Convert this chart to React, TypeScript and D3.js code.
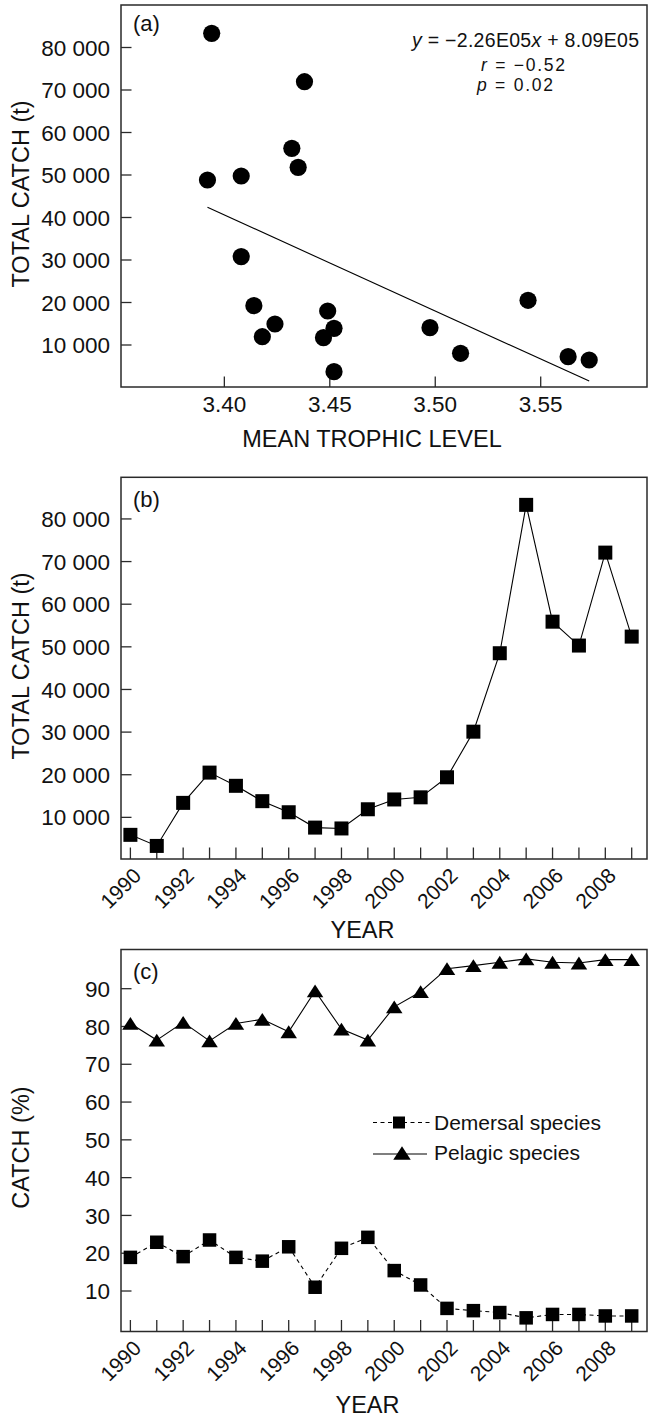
import React from "react";
import * as d3 from "d3";

// ---------- data ----------
const years = [1990,1991,1992,1993,1994,1995,1996,1997,1998,1999,2000,2001,2002,2003,2004,2005,2006,2007,2008,2009];
const yearLabels = [1990,1992,1994,1996,1998,2000,2002,2004,2006,2008];

// panel (a) scatter: mean trophic level vs total catch
const scatterTL = [3.394,3.438,3.432,3.435,3.392,3.408,3.408,3.414,3.424,3.418,3.449,3.452,3.447,3.452,3.4975,3.512,3.544,3.563,3.573];
const scatterCatch = [83340,71950,56280,51810,48820,49760,30780,19250,14940,11950,18000,13930,11720,3720,14070,8050,20520,7250,6470];
const regSlope = -2.26e5;
const regIntercept = 8.09e5;
const tlTicks = [3.40,3.45,3.50,3.55];
const catchTicks = [10000,20000,30000,40000,50000,60000,70000,80000];

// panel (b) total catch per year
const totalCatch = [5900,3300,13400,20500,17400,13800,11200,7600,7400,11900,14200,14700,19400,30100,48500,83300,55900,50300,72100,52400];

// panel (c) catch composition (%)
const demersal = [18.9,22.9,19.1,23.5,18.9,17.9,21.7,11.0,21.3,24.2,15.4,11.6,5.4,4.8,4.3,2.9,3.8,3.8,3.4,3.4];
const pelagic = [80.8,76.4,81.1,76.2,80.8,81.9,78.6,89.4,79.3,76.4,85.2,89.2,95.3,96.1,97.0,97.9,97.0,96.8,97.7,97.7];
const pctTicks = [10,20,30,40,50,60,70,80,90];

// ---------- layout ----------
const W = 652, H = 1417;
const L = 121, R = 647;
const FONT = "'Liberation Sans', Arial, Helvetica, sans-serif";
const TICK = 10.5;
const fmtThousands = (v: number) => d3.format(",")(v).replace(/,/g, " ");

const xTL = d3.scaleLinear().domain([3.351, 3.6004]).range([L, R]);
const yA = d3.scaleLinear().domain([0, 90000]).range([387.5, 5]);
const xYear = d3.scaleLinear().domain([1989.644, 2009.58]).range([L, R]);
const yB = d3.scaleLinear().domain([0, 90000]).range([860, 476.3]);
const yC = d3.scaleLinear().domain([0, 100]).range([1328.8, 950.9]);

const frameStroke = "#2a2a2a";

function Frame({ top, bottom }: { top: number; bottom: number }) {
  return <rect x={L} y={top} width={R - L} height={bottom - top} fill="none" stroke={frameStroke} strokeWidth={1.5} />;
}

function YTicks({ ticks, scale, fmt }: { ticks: number[]; scale: any; fmt: (v: number) => string }) {
  return (
    <g>
      {ticks.map((t) => (
        <g key={t}>
          <line x1={L} x2={L + TICK} y1={scale(t)} y2={scale(t)} stroke={frameStroke} strokeWidth={1.3} />
          <text x={110} y={scale(t)} dy="0.36em" textAnchor="end" fontSize={22.5} fontFamily={FONT} fill="#111">
            {fmt(t)}
          </text>
        </g>
      ))}
    </g>
  );
}

function YearAxis({ bottom }: { bottom: number }) {
  return (
    <g>
      {years.map((y) => (
        <line key={y} x1={xYear(y)} x2={xYear(y)} y1={bottom} y2={bottom - TICK - 1} stroke={frameStroke} strokeWidth={1.3} />
      ))}
      {yearLabels.map((y) => (
        <text
          key={y}
          transform={`translate(${xYear(y) + 12},${bottom + 18}) rotate(-45)`}
          textAnchor="end"
          fontSize={21}
          fontFamily={FONT}
          fill="#111"
        >
          {y}
        </text>
      ))}
    </g>
  );
}

function Square({ x, y, s }: { x: number; y: number; s: number }) {
  return <rect x={x - s / 2} y={y - s / 2} width={s} height={s} fill="#000" />;
}

function Triangle({ x, y, w, h }: { x: number; y: number; w: number; h: number }) {
  return <path d={`M${x},${y - h / 2}L${x + w / 2},${y + h / 2}L${x - w / 2},${y + h / 2}Z`} fill="#000" />;
}

export default function App() {
  const pointsA = scatterTL.map((t, i) => ({ x: t, y: scatterCatch[i] }));
  const regX0 = d3.min(scatterTL) as number;
  const regX1 = d3.max(scatterTL) as number;

  const lineB = d3.line<number>().x((_, i) => xYear(years[i])).y((v) => yB(v));
  const lineCd = d3.line<number>().x((_, i) => xYear(years[i])).y((v) => yC(v));

  return (
    <svg width={W} height={H} style={{ position: "absolute", left: 0, top: 0, background: "#fff" }} fontFamily={FONT}>
      <rect x={0} y={0} width={W} height={H} fill="#fff" />

      {/* ---------- Panel (a) ---------- */}
      <g>
        {tlTicks.map((t) => (
          <g key={t}>
            <line x1={xTL(t)} x2={xTL(t)} y1={387} y2={387 - TICK} stroke={frameStroke} strokeWidth={1.3} />
            <text x={xTL(t)} y={411.5} textAnchor="middle" fontSize={22.5} fill="#111">
              {d3.format(".2f")(t)}
            </text>
          </g>
        ))}
        <YTicks ticks={catchTicks} scale={yA} fmt={fmtThousands} />
        <line
          x1={xTL(regX0)}
          y1={yA(regSlope * regX0 + regIntercept)}
          x2={xTL(regX1)}
          y2={yA(regSlope * regX1 + regIntercept)}
          stroke="#000"
          strokeWidth={1.1}
        />
        {pointsA.map((p, i) => (
          <circle key={i} cx={xTL(p.x)} cy={yA(p.y)} r={8.6} fill="#000" />
        ))}
        <Frame top={5} bottom={387} />
        <text x={133} y={30.5} fontSize={22} fill="#111">(a)</text>
        <text x={412} y={47} fontSize={19.5} fill="#111" textLength={227} lengthAdjust="spacing">
          <tspan fontStyle="italic">y</tspan>
          {" = −2.26E05"}
          <tspan fontStyle="italic">x</tspan>
          {" + 8.09E05"}
        </text>
        <text x={481} y={71} fontSize={17.5} fill="#111" textLength={84} lengthAdjust="spacing">
          <tspan fontStyle="italic">r</tspan>
          {" = −0.52"}
        </text>
        <text x={477} y={91} fontSize={17.5} fill="#111" textLength={76} lengthAdjust="spacing">
          <tspan fontStyle="italic">p</tspan>
          {" = 0.02"}
        </text>
        <text transform="translate(28.5,194) rotate(-90)" textAnchor="middle" fontSize={23.5} fill="#111">
          TOTAL CATCH (t)
        </text>
        <text x={372} y={447} textAnchor="middle" fontSize={23.5} fill="#111">
          MEAN TROPHIC LEVEL
        </text>
      </g>

      {/* ---------- Panel (b) ---------- */}
      <g>
        <YTicks ticks={catchTicks} scale={yB} fmt={fmtThousands} />
        <YearAxis bottom={859} />
        <path d={lineB(totalCatch) || ""} fill="none" stroke="#000" strokeWidth={1.1} />
        {totalCatch.map((v, i) => (
          <Square key={i} x={xYear(years[i])} y={yB(v)} s={14} />
        ))}
        <Frame top={477.3} bottom={859} />
        <text x={133} y={507} fontSize={22} fill="#111">(b)</text>
        <text transform="translate(28.5,666) rotate(-90)" textAnchor="middle" fontSize={23.5} fill="#111">
          TOTAL CATCH (t)
        </text>
        <text x={362.5} y={938} textAnchor="middle" fontSize={23.5} fill="#111">
          YEAR
        </text>
      </g>

      {/* ---------- Panel (c) ---------- */}
      <g>
        <YTicks ticks={pctTicks} scale={yC} fmt={(v) => String(v)} />
        <YearAxis bottom={1331.5} />
        <path d={lineCd(demersal) || ""} fill="none" stroke="#000" strokeWidth={1.1} strokeDasharray="4,3.5" />
        <path d={lineCd(pelagic) || ""} fill="none" stroke="#000" strokeWidth={1.1} />
        {demersal.map((v, i) => (
          <Square key={"d" + i} x={xYear(years[i])} y={yC(v)} s={13.5} />
        ))}
        {pelagic.map((v, i) => (
          <Triangle key={"p" + i} x={xYear(years[i])} y={yC(v)} w={16.5} h={12.8} />
        ))}
        <Frame top={949.5} bottom={1331.5} />
        <text x={133} y={979} fontSize={22} fill="#111">(c)</text>

        {/* legend */}
        <line x1={373} x2={433} y1={1122.5} y2={1122.5} stroke="#000" strokeWidth={1.1} strokeDasharray="4,3.5" />
        <Square x={399} y={1122.5} s={12} />
        <text x={434} y={1129.5} fontSize={21} fill="#111">Demersal species</text>
        <line x1={373} x2={427} y1={1154} y2={1154} stroke="#000" strokeWidth={1.1} />
        <Triangle x={402} y={1153} w={17.5} h={13.5} />
        <text x={434} y={1160} fontSize={21} fill="#111">Pelagic species</text>

        <text transform="translate(28.5,1147.5) rotate(-90)" textAnchor="middle" fontSize={23.5} fill="#111">
          CATCH (%)
        </text>
        <text x={367.5} y={1413} textAnchor="middle" fontSize={23.5} fill="#111">
          YEAR
        </text>
      </g>
    </svg>
  );
}
